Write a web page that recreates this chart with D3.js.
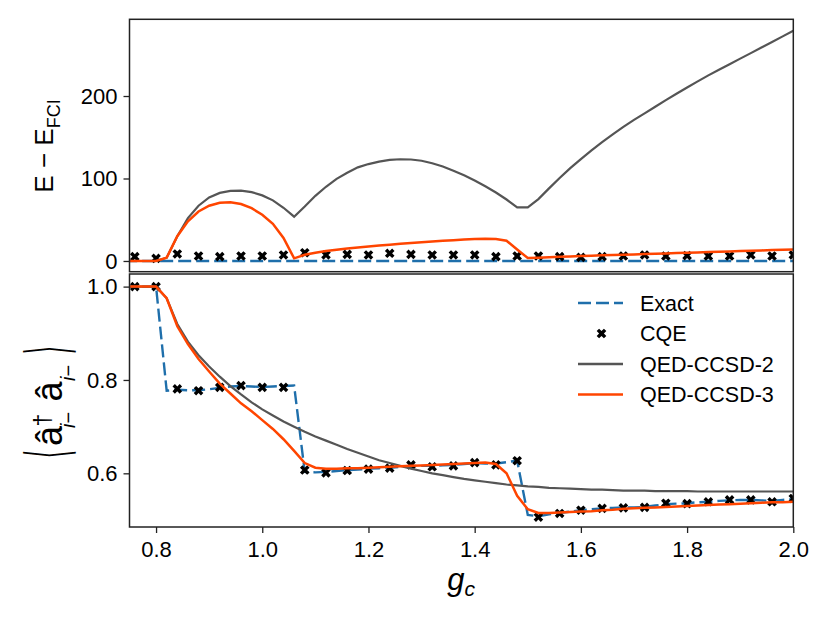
<!DOCTYPE html>
<html>
<head>
<meta charset="utf-8">
<script src="https://cdn.jsdelivr.net/npm/d3@7"></script>
<style>
  body { margin: 0; background: #fff; }
  svg { font-family: "Liberation Sans", Arial, Helvetica, sans-serif; }
</style>
</head>
<body>
<svg id="chart" width="830" height="623"></svg>
<script>
// g_c grid of the curves
const gc = [
    0.74, 0.76, 0.78, 0.80, 0.82, 0.84, 0.86, 0.88, 0.90, 0.92, 0.94, 0.96, 0.98, 1.00, 1.02, 1.04,
    1.06, 1.08, 1.10, 1.12, 1.14, 1.16, 1.18, 1.20, 1.22, 1.24, 1.26, 1.28, 1.30, 1.32, 1.34, 1.36,
    1.38, 1.40, 1.42, 1.44, 1.46, 1.48, 1.50, 1.52, 1.54, 1.56, 1.58, 1.60, 1.62, 1.64, 1.66, 1.68,
    1.70, 1.72, 1.74, 1.76, 1.78, 1.80, 1.82, 1.84, 1.86, 1.88, 1.90, 1.92, 1.94, 1.96, 1.98, 2.00
];
// E - E_FCI (top panel)
const energyExact = [
    0, 0, 0, 0, 0, 0, 0, 0, 0, 0, 0, 0, 0, 0, 0, 0,
    0, 0, 0, 0, 0, 0, 0, 0, 0, 0, 0, 0, 0, 0, 0, 0,
    0, 0, 0, 0, 0, 0, 0, 0, 0, 0, 0, 0, 0, 0, 0, 0,
    0, 0, 0, 0, 0, 0, 0, 0, 0, 0, 0, 0, 0, 0, 0, 0
];
const energyQed2 = [
    0, 0, 0, 0, 4, 30, 52, 67, 77, 82.5, 85, 85.3, 83.5, 79.5, 73.5, 64.5,
    53.7, 66, 79, 90, 99.5, 107, 113.5, 117.5, 120.5, 122.5, 123.3, 123, 121.5, 118.5, 114.5, 109.5,
    104, 97.5, 90.5, 83, 74.5, 65, 65, 75, 88, 100.5, 112.5, 123.5, 134, 144, 153.5, 162.5,
    171, 179, 187, 195, 202.7, 210.3, 217.8, 225, 231.8, 238.5, 245.3, 252, 258.8, 265.5, 272.3, 279
];
const energyQed3 = [
    0, 0, 0, 0, 4, 30, 48, 60, 67, 70.5, 71.3, 69, 64, 56, 45, 28,
    3.2, 7.5, 10, 12, 13.5, 15, 16.3, 17.5, 18.7, 19.8, 20.8, 21.8, 22.7, 23.6, 24.4, 25.2,
    26, 26.6, 27, 26.5, 24.5, 14, 3.5, 4, 4.5, 5, 5.5, 6, 6.4, 6.8, 7.2, 7.6,
    8, 8.4, 8.8, 9.2, 9.6, 10, 10.4, 10.8, 11.2, 11.6, 12, 12.4, 12.8, 13.2, 13.6, 14
];
// <a+ a> (bottom panel)
const occExact = [
    1, 1, 1, 1, 0.777, 0.779, 0.778, 0.778, 0.780, 0.783, 0.786, 0.787, 0.786, 0.785, 0.786, 0.787,
    0.788, 0.603, 0.602, 0.603, 0.605, 0.607, 0.608, 0.610, 0.611, 0.612, 0.614, 0.616, 0.616, 0.616, 0.617, 0.618,
    0.620, 0.622, 0.621, 0.621, 0.624, 0.627, 0.511, 0.508, 0.512, 0.515, 0.518, 0.521, 0.523, 0.525, 0.526, 0.527,
    0.527, 0.528, 0.531, 0.534, 0.535, 0.536, 0.538, 0.539, 0.541, 0.542, 0.543, 0.543, 0.542, 0.541, 0.543, 0.545
];
const occQed2 = [
    1, 1, 1, 1, 0.975, 0.920, 0.882, 0.853, 0.829, 0.807, 0.787, 0.769, 0.752, 0.737, 0.724, 0.711,
    0.700, 0.689, 0.679, 0.670, 0.661, 0.652, 0.644, 0.636, 0.628, 0.622, 0.616, 0.610, 0.605, 0.600, 0.596, 0.592,
    0.588, 0.585, 0.582, 0.579, 0.576, 0.574, 0.572, 0.571, 0.569, 0.568, 0.567, 0.566, 0.565, 0.565, 0.564, 0.563,
    0.563, 0.563, 0.562, 0.562, 0.562, 0.562, 0.561, 0.561, 0.561, 0.561, 0.561, 0.561, 0.561, 0.561, 0.561, 0.561
];
const occQed3 = [
    1, 1, 1, 1, 0.975, 0.915, 0.877, 0.845, 0.818, 0.792, 0.771, 0.750, 0.733, 0.714, 0.695, 0.673,
    0.648, 0.622, 0.612, 0.610, 0.610, 0.611, 0.611, 0.612, 0.613, 0.614, 0.615, 0.616, 0.617, 0.618, 0.619, 0.620,
    0.621, 0.622, 0.623, 0.620, 0.600, 0.552, 0.523, 0.515, 0.515, 0.516, 0.517, 0.518, 0.519, 0.521, 0.522, 0.524,
    0.525, 0.526, 0.527, 0.528, 0.529, 0.530, 0.531, 0.532, 0.533, 0.534, 0.535, 0.536, 0.537, 0.538, 0.538, 0.539
];
// CQE points
const cqeX = [
    0.76, 0.80, 0.84, 0.88, 0.92, 0.96, 1.00, 1.04, 1.08, 1.12, 1.16, 1.20, 1.24, 1.28, 1.32, 1.36,
    1.40, 1.44, 1.48, 1.52, 1.56, 1.60, 1.64, 1.68, 1.72, 1.76, 1.80, 1.84, 1.88, 1.92, 1.96, 2.00
];
const cqeEnergy = [
    5.2, 3.2, 8.5, 6, 5.2, 6, 6, 7.3, 10, 7.3, 8, 7.3, 9.3, 8, 7.3, 7.3,
    7.3, 5.2, 6, 6, 5.2, 4.4, 5.2, 6, 7.3, 6, 6.5, 6, 6, 7.3, 6, 7.3
];
const cqeOcc = [
    1.0, 1.0, 0.781, 0.777, 0.784, 0.788, 0.784, 0.784, 0.607, 0.601, 0.606, 0.609, 0.611, 0.618, 0.614, 0.616,
    0.623, 0.618, 0.627, 0.506, 0.514, 0.521, 0.525, 0.526, 0.527, 0.536, 0.535, 0.539, 0.543, 0.543, 0.539, 0.546
];
// axes
const xLimits = [0.75, 2.0];
const xTicks = [0.8, 1.0, 1.2, 1.4, 1.6, 1.8, 2.0];
const energyLimits = [-13, 293];
const energyTicks = [0, 100, 200];
const occLimits = [0.485, 1.027];
const occTicks = [0.6, 0.8, 1.0];
const seriesNames = ['Exact', 'CQE', 'QED-CCSD-2', 'QED-CCSD-3'];

(function () {
    let svg = d3.select('#chart');
    let color = { exact: '#1f6fab', qed2: '#555555', qed3: '#ff4500', cqe: '#000' };
    let frame = { left: 129.5, right: 793.3 };
    let cross = d3.symbol(d3.symbolCross, 58);

    let x = d3.scaleLinear().domain(xLimits).range([frame.left, frame.right]);

    // two stacked panels
    let panels = [
        { id: 'top', y: d3.scaleLinear().domain(energyLimits).range([271.7, 19.3]), ticks: energyTicks,
          fmt: d3.format('d'), exact: energyExact, qed2: energyQed2, qed3: energyQed3, cqe: cqeEnergy },
        { id: 'bot', y: d3.scaleLinear().domain(occLimits).range([527, 274]), ticks: occTicks,
          fmt: d3.format('.1f'), exact: occExact, qed2: occQed2, qed3: occQed3, cqe: cqeOcc }
    ];

    let defs = svg.append('defs');

    panels.forEach(p => {
        let [y1, y0] = p.y.range();
        defs.append('clipPath').attr('id', 'clip-' + p.id)
            .append('rect')
            .attr('x', frame.left).attr('y', y0)
            .attr('width', frame.right - frame.left).attr('height', y1 - y0);

        let g = svg.append('g').attr('clip-path', `url(#clip-${p.id})`);
        let line = d3.line().x(d => x(d[0])).y(d => p.y(d[1]));

        g.append('path')
            .attr('d', line(d3.zip(gc, p.exact)))
            .style('fill', 'none').style('stroke', color.exact)
            .style('stroke-width', 2.4).style('stroke-dasharray', '13,5');

        g.selectAll('.cqe')
            .data(d3.zip(cqeX, p.cqe))
            .enter()
            .append('path')
            .attr('d', cross)
            .attr('transform', d => `translate(${x(d[0])},${p.y(d[1])}) rotate(45)`)
            .style('fill', color.cqe);

        g.append('path')
            .attr('d', line(d3.zip(gc, p.qed2)))
            .style('fill', 'none').style('stroke', color.qed2).style('stroke-width', 2.2);

        g.append('path')
            .attr('d', line(d3.zip(gc, p.qed3)))
            .style('fill', 'none').style('stroke', color.qed3).style('stroke-width', 2.5);

        // y axis
        let ax = svg.append('g')
            .attr('transform', `translate(${frame.left},0)`)
            .call(d3.axisLeft(p.y).tickValues(p.ticks).tickFormat(p.fmt).tickSize(6).tickPadding(6));
        ax.select('.domain').remove();
        ax.selectAll('line').style('stroke', '#222').style('stroke-width', 1.3);
        ax.selectAll('text').style('font-size', '22px').style('fill', '#000')
            .style('font-family', '"Liberation Sans", Arial, sans-serif');

        // frame
        svg.append('rect')
            .attr('x', frame.left).attr('y', y0)
            .attr('width', frame.right - frame.left).attr('height', y1 - y0)
            .style('fill', 'none').style('stroke', '#222').style('stroke-width', 1.5);
    });

    // x axis (bottom panel only)
    let xa = svg.append('g')
        .attr('transform', 'translate(0,527)')
        .call(d3.axisBottom(x).tickValues(xTicks).tickFormat(d3.format('.1f')).tickSize(6).tickPadding(8));
    xa.select('.domain').remove();
    xa.selectAll('line').style('stroke', '#222').style('stroke-width', 1.3);
    xa.selectAll('text').style('font-size', '22px').style('fill', '#000')
        .style('font-family', '"Liberation Sans", Arial, sans-serif');

    // x label
    let xl = svg.append('text')
        .attr('x', 461).attr('y', 590)
        .attr('text-anchor', 'middle')
        .style('font-style', 'italic')
        .style('font-size', '31px');
    xl.append('tspan').text('g');
    xl.append('tspan').attr('dy', 6).style('font-size', '21px').text('c');

    // top y label
    let yl = svg.append('text')
        .attr('transform', 'translate(53,146) rotate(-90)')
        .attr('text-anchor', 'middle')
        .style('font-size', '26px');
    yl.append('tspan').text('E − E');
    yl.append('tspan').attr('dy', 7).style('font-size', '18px').text('FCI');

    // bottom y label  <a†_{i-} a_{i-}>  (brackets stretched like TeX delimiters)
    let bl = svg.append('g').attr('transform', 'translate(62,400) rotate(-90)');
    bl.append('text').attr('transform', 'translate(-54,6) scale(0.5,1.48)').attr('text-anchor', 'middle')
        .style('font-family', '"DejaVu Sans"').style('font-size', '40px').text('⟨');
    bl.append('text').attr('x', -36).attr('text-anchor', 'middle')
        .style('font-size', '36px').text('â');
    bl.append('text').attr('x', -20).attr('y', -11).attr('text-anchor', 'middle')
        .style('font-size', '23px').text('†');
    bl.append('text').attr('x', -28).attr('y', 13)
        .style('font-size', '20px').html('<tspan font-style="italic">i</tspan>−');
    bl.append('text').attr('x', 8.5).attr('text-anchor', 'middle')
        .style('font-size', '36px').text('â');
    bl.append('text').attr('x', 19).attr('y', 13)
        .style('font-size', '20px').html('<tspan font-style="italic">i</tspan>−');
    bl.append('text').attr('transform', 'translate(50,6) scale(0.5,1.48)').attr('text-anchor', 'middle')
        .style('font-family', '"DejaVu Sans"').style('font-size', '40px').text('⟩');

    // legend
    let legend = svg.append('g').attr('transform', 'translate(578,303)');
    let item = legend.selectAll('g')
        .data(seriesNames)
        .enter()
        .append('g')
        .attr('transform', (d, i) => `translate(0,${i * 30.5})`);
    item.filter((d, i) => i !== 1).append('line')
        .attr('x1', 0).attr('x2', 45).attr('y1', 0).attr('y2', 0)
        .style('stroke', (d, i) => [color.exact, color.qed2, color.qed3][i])
        .style('stroke-width', (d, i) => [2.4, 2.4, 2.6][i])
        .style('stroke-dasharray', (d, i) => i === 0 ? '13,5' : null);
    item.filter((d, i) => i === 1).append('path')
        .attr('d', cross)
        .attr('transform', 'translate(23.5,0) rotate(45)')
        .style('fill', color.cqe);
    item.append('text')
        .attr('x', 62).attr('y', 0).attr('dy', '0.36em')
        .style('font-size', '21.5px')
        .text(d => d);
}());
</script>
</body>
</html>
